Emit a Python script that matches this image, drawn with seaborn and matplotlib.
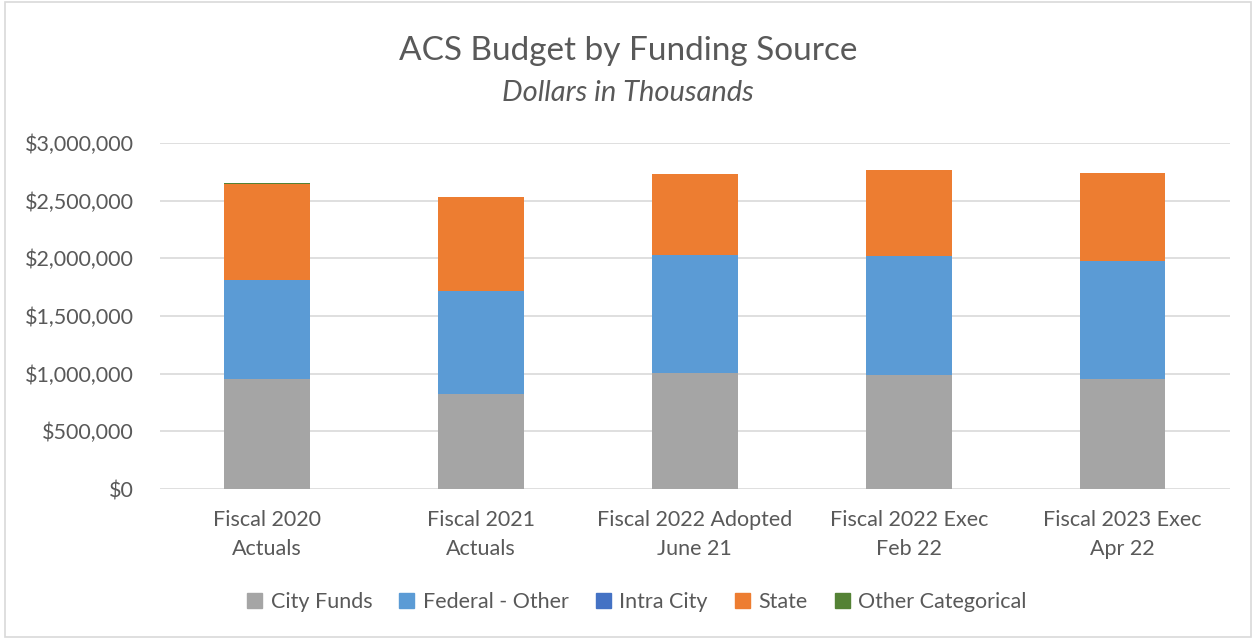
import matplotlib
matplotlib.use("Agg")
import matplotlib.pyplot as plt
import matplotlib.patches as mpatches
import matplotlib.ticker as mticker
import seaborn as sns
import pandas as pd
import numpy as np

categories = ["Fiscal 2020\nActuals", "Fiscal 2021\nActuals", "Fiscal 2022 Adopted\nJune 21",
              "Fiscal 2022 Exec\nFeb 22", "Fiscal 2023 Exec\nApr 22"]
city_funds = [954000, 821000, 1003000, 990000, 954000]
federal_other = [861000, 896000, 1026000, 1030000, 1023000]
intra_city = [1000, 1000, 1000, 1000, 1000]
state = [829000, 817000, 702000, 746000, 762000]
other_categorical = [9000, 0, 0, 0, 0]

series_names = ["City Funds", "Federal - Other", "Intra City", "State", "Other Categorical"]
series_values = [city_funds, federal_other, intra_city, state, other_categorical]
colors = ["#A5A5A5", "#5B9BD5", "#4472C4", "#ED7D31", "#548235"]

sns.set_theme(style="white")
plt.rcParams['font.family'] = ['Lato', 'DejaVu Sans']
text_color = "#595959"

fig = plt.figure(figsize=(12.56, 6.39), dpi=100)
ax = fig.add_axes([0.1274, 0.2347, 0.8516, 0.5415])

cum = np.cumsum(np.array(series_values, dtype=float), axis=0)
for i in reversed(range(len(series_names))):
    df = pd.DataFrame({"cat": categories, "val": cum[i]})
    sns.barplot(data=df, x="cat", y="val", color=colors[i], width=0.40,
                saturation=1, ax=ax, zorder=3, linewidth=0)

ax.set_ylim(0, 3000000)
ax.yaxis.set_major_locator(mticker.MultipleLocator(500000))
ax.yaxis.set_major_formatter(mticker.FuncFormatter(lambda v, p: "${:,.0f}".format(v)))
ax.grid(axis="y", color="#D9D9D9", linewidth=1.2, zorder=0)
ax.set_axisbelow(True)
for s in ax.spines.values():
    s.set_visible(False)
ax.set_xlabel("")
ax.set_ylabel("")
ax.tick_params(axis="both", length=0, labelsize=15.5, colors=text_color)
ax.tick_params(axis="y", pad=19)
ax.tick_params(axis="x", pad=15)
for lbl in ax.get_xticklabels():
    lbl.set_linespacing(1.6)

fig.text(0.5, 0.920, "ACS Budget by Funding Source", ha="center", va="center",
         fontsize=24, color=text_color)
fig.text(0.5, 0.855, "Dollars in Thousands", ha="center", va="center",
         fontsize=21, style="italic", color=text_color)

handles = [mpatches.Patch(color=c, label=n) for n, c in zip(series_names, colors)]
fig.legend(handles=handles, loc="center", bbox_to_anchor=(0.507, 0.058), ncol=5,
           frameon=False, fontsize=15.5, labelcolor=text_color, handlelength=0.7,
           handleheight=0.7, handletextpad=0.4, columnspacing=1.25)

fig.patches.append(mpatches.Rectangle((0.004, 0.003), 0.992, 0.994, transform=fig.transFigure,
                                      fill=False, edgecolor="#D9D9D9", linewidth=1.2))

fig.savefig("out.png", dpi=100)
